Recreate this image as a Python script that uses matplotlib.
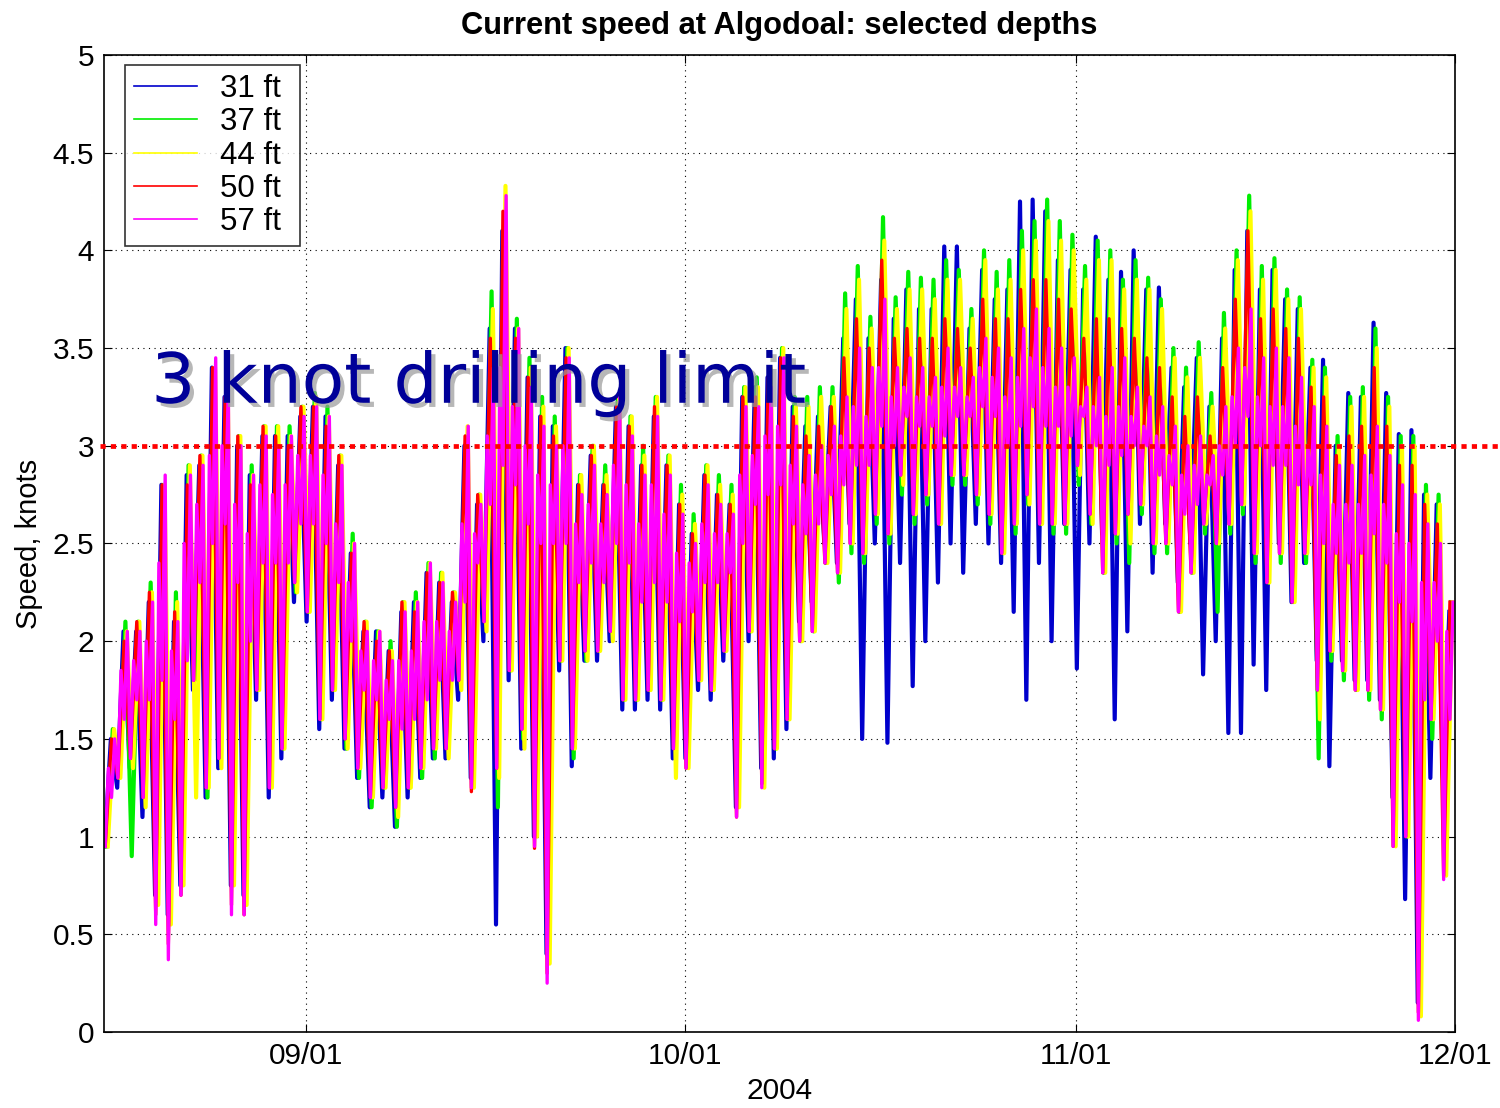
import datetime as dt
import matplotlib
matplotlib.use('Agg')
import matplotlib.pyplot as plt
import matplotlib.dates as mdates
import matplotlib.patheffects as pe

plt.rcParams['font.family'] = ['Liberation Sans', 'DejaVu Sans']

# daily low / high speed (knots), one value per day starting 2004-08-16
start = dt.datetime(2004, 8, 16)

# 57 ft (magenta): deepest low, highest peak, and the second (core) swing of the day
hi_57 = [1.50, 2.05, 2.05, 2.20, 2.85, 2.10, 2.85, 2.90, 3.45, 3.30,
         3.00, 2.85, 3.05, 3.00, 3.05, 3.15, 3.20, 3.15, 2.90, 2.50,
         2.05, 2.05, 1.90, 2.15, 2.20, 2.40, 2.30, 2.20, 3.10, 2.70,
         3.40, 4.28, 3.60, 3.30, 3.10, 3.00, 3.45, 2.75, 2.90, 2.75,
         3.25, 3.05, 2.85, 3.15, 2.85, 2.65, 2.50, 2.80, 2.70, 2.65,
         3.20, 3.20, 3.30, 3.45, 3.10, 2.95, 3.00, 3.10, 3.25, 3.50,
         3.40, 3.75, 3.40, 3.45, 3.40, 3.35, 3.50, 3.40, 3.35, 3.55,
         3.50, 3.45, 3.60, 3.70, 3.60, 3.50, 3.45, 3.30, 3.35, 3.40,
         3.45, 3.30, 3.25, 3.20, 3.10, 3.00, 3.05, 2.95, 3.20, 3.50,
         3.70, 3.45, 3.50, 3.45, 3.35, 3.20, 3.10, 2.90, 2.90, 2.95,
         3.10, 2.95, 2.80, 2.75, 2.60, 2.50, 2.20]
hi2_57 = [1.35, 1.85, 1.90, 2.00, 2.40, 1.95, 2.50, 2.70, 2.95, 3.00,
          2.70, 2.55, 2.80, 2.75, 2.80, 2.95, 2.95, 2.85, 2.60, 2.30,
          1.95, 1.90, 1.80, 1.90, 1.95, 2.10, 2.10, 2.05, 2.60, 2.55,
          3.05, 3.40, 3.20, 3.00, 2.85, 2.80, 3.00, 2.60, 2.70, 2.60,
          2.90, 2.80, 2.60, 2.80, 2.65, 2.45, 2.40, 2.60, 2.55, 2.55,
          2.85, 2.95, 3.05, 3.10, 2.90, 2.80, 2.85, 2.95, 3.05, 3.20,
          3.15, 3.40, 3.25, 3.30, 3.25, 3.25, 3.30, 3.30, 3.25, 3.40,
          3.35, 3.25, 3.35, 3.45, 3.40, 3.30, 3.30, 3.20, 3.20, 3.15,
          3.20, 3.15, 3.10, 3.05, 2.95, 2.85, 2.90, 2.85, 3.00, 3.25,
          3.40, 3.25, 3.20, 3.20, 3.10, 3.00, 2.85, 2.70, 2.70, 2.70,
          2.85, 2.70, 2.55, 2.50, 2.30, 2.30, 2.05]
lo2_57 = [1.20, 1.60, 1.70, 1.70, 1.80, 1.60, 1.90, 2.30, 2.50, 2.60,
          2.30, 2.00, 2.40, 2.40, 2.40, 2.60, 2.60, 2.50, 2.30, 2.00,
          1.75, 1.70, 1.60, 1.55, 1.60, 1.70, 1.80, 1.80, 2.20, 2.40,
          2.70, 2.90, 2.80, 2.60, 2.50, 2.50, 2.50, 2.30, 2.40, 2.30,
          2.50, 2.40, 2.20, 2.30, 2.20, 2.10, 2.15, 2.30, 2.30, 2.35,
          2.50, 2.70, 2.75, 2.80, 2.60, 2.55, 2.60, 2.75, 2.80, 2.90,
          2.90, 3.10, 3.00, 3.15, 3.10, 3.10, 3.05, 3.15, 3.15, 3.20,
          3.15, 3.00, 3.10, 3.20, 3.10, 3.10, 3.05, 3.15, 3.00, 2.90,
          2.95, 3.00, 3.00, 2.85, 2.80, 2.65, 2.70, 2.80, 2.85, 3.00,
          3.15, 3.00, 2.90, 2.90, 2.80, 2.80, 2.50, 2.45, 2.40, 2.45,
          2.55, 2.40, 2.20, 2.10, 1.70, 2.00, 1.60]
lo_57 = [0.95, 1.30, 1.40, 1.20, 0.55, 0.37, 0.70, 1.80, 1.25, 1.40,
         0.60, 0.60, 1.75, 1.25, 1.45, 2.30, 2.15, 1.60, 1.75, 1.50,
         1.35, 1.20, 1.25, 1.15, 1.25, 1.35, 1.45, 1.45, 1.80, 1.25,
         2.10, 1.35, 1.85, 1.55, 0.95, 0.25, 1.90, 1.45, 1.95, 1.95,
         2.05, 1.70, 1.70, 1.75, 1.70, 1.45, 1.35, 1.80, 1.75, 1.95,
         1.10, 2.05, 1.25, 1.45, 1.60, 2.00, 2.05, 2.40, 2.35, 2.50,
         2.45, 2.65, 2.55, 2.85, 2.65, 2.75, 2.60, 2.85, 2.85, 2.75,
         2.65, 2.45, 2.60, 2.75, 2.60, 2.60, 2.60, 2.90, 2.65, 2.35,
         2.55, 2.65, 2.70, 2.50, 2.50, 2.15, 2.35, 2.60, 2.50, 2.60,
         2.70, 2.45, 2.30, 2.45, 2.20, 2.45, 1.75, 1.95, 1.85, 1.75,
         1.75, 1.65, 0.95, 1.00, 0.06, 1.60, 0.78]

# 50 ft (red)
hi_50 = [1.50, 2.00, 2.10, 2.25, 2.80, 2.15, 2.80, 2.95, 3.40, 3.25,
         3.05, 2.80, 3.10, 3.05, 3.00, 3.20, 3.20, 3.10, 2.95, 2.45,
         2.10, 2.00, 1.95, 2.20, 2.15, 2.35, 2.30, 2.25, 3.05, 2.75,
         3.55, 4.20, 3.55, 3.35, 3.15, 3.05, 3.45, 2.80, 2.95, 2.80,
         3.20, 3.10, 2.90, 3.20, 2.90, 2.70, 2.55, 2.85, 2.75, 2.70,
         3.25, 3.25, 3.35, 3.45, 3.15, 3.05, 3.10, 3.20, 3.45, 3.65,
         3.50, 3.95, 3.55, 3.60, 3.55, 3.55, 3.65, 3.60, 3.50, 3.75,
         3.65, 3.65, 3.80, 3.85, 3.85, 3.75, 3.70, 3.55, 3.65, 3.65,
         3.60, 3.55, 3.45, 3.40, 3.25, 3.15, 3.25, 3.05, 3.40, 3.75,
         4.10, 3.65, 3.70, 3.60, 3.55, 3.30, 3.25, 2.95, 3.05, 3.10,
         3.40, 3.10, 2.90, 2.90, 2.70, 2.60, 2.20]
lo_50 = [0.95, 1.30, 1.40, 1.20, 0.60, 0.45, 0.70, 1.80, 1.25, 1.40,
         0.65, 0.60, 1.75, 1.25, 1.45, 2.30, 2.15, 1.60, 1.75, 1.50,
         1.35, 1.20, 1.25, 1.15, 1.25, 1.35, 1.45, 1.45, 1.80, 1.23,
         2.10, 1.35, 1.85, 1.55, 0.94, 0.30, 1.90, 1.45, 1.95, 1.95,
         2.05, 1.70, 1.70, 1.75, 1.70, 1.45, 1.35, 1.80, 1.75, 1.95,
         1.10, 2.05, 1.27, 1.45, 1.60, 2.00, 2.05, 2.40, 2.35, 2.50,
         2.45, 2.65, 2.55, 2.85, 2.65, 2.75, 2.60, 2.85, 2.85, 2.75,
         2.65, 2.45, 2.60, 2.75, 2.60, 2.60, 2.60, 2.90, 2.65, 2.35,
         2.55, 2.65, 2.70, 2.50, 2.50, 2.15, 2.35, 2.60, 2.50, 2.60,
         2.70, 2.45, 2.30, 2.45, 2.20, 2.45, 1.75, 1.95, 1.85, 1.75,
         1.75, 1.65, 0.95, 1.00, 0.10, 1.60, 0.80]

# 44 ft (yellow)
hi_44 = [1.55, 2.05, 2.10, 2.25, 2.80, 2.20, 2.90, 2.95, 3.40, 3.30,
         3.05, 2.85, 3.10, 3.10, 3.05, 3.20, 3.25, 3.15, 2.95, 2.50,
         2.10, 2.05, 1.95, 2.20, 2.20, 2.40, 2.35, 2.25, 3.10, 2.75,
         3.70, 4.33, 3.60, 3.40, 3.20, 3.10, 3.50, 2.85, 3.00, 2.85,
         3.25, 3.15, 2.95, 3.25, 2.95, 2.75, 2.60, 2.90, 2.80, 2.75,
         3.30, 3.30, 3.40, 3.50, 3.20, 3.20, 3.25, 3.25, 3.70, 3.85,
         3.60, 4.05, 3.70, 3.80, 3.80, 3.75, 3.85, 3.85, 3.65, 3.95,
         3.80, 3.85, 4.00, 4.05, 4.15, 4.05, 4.00, 3.85, 3.95, 3.95,
         3.80, 3.85, 3.80, 3.70, 3.45, 3.35, 3.45, 3.20, 3.60, 3.95,
         4.20, 3.85, 3.90, 3.75, 3.70, 3.40, 3.35, 3.00, 3.20, 3.25,
         3.50, 3.20, 3.00, 3.00, 2.75, 2.70, 2.20]
lo_44 = [0.95, 1.30, 1.35, 1.15, 0.65, 0.55, 0.75, 1.20, 1.25, 1.35,
         0.75, 0.65, 1.75, 1.25, 1.45, 2.25, 2.15, 1.60, 1.75, 1.45,
         1.35, 1.20, 1.25, 1.10, 1.25, 1.35, 1.45, 1.40, 1.75, 1.25,
         2.05, 1.30, 1.85, 1.45, 1.00, 0.35, 1.90, 1.45, 1.90, 1.95,
         2.00, 1.70, 1.70, 1.75, 1.70, 1.30, 1.35, 1.80, 1.75, 1.95,
         1.15, 2.05, 1.25, 1.45, 1.60, 2.00, 2.05, 2.40, 2.35, 2.50,
         2.45, 2.65, 2.55, 2.80, 2.65, 2.75, 2.60, 2.85, 2.85, 2.75,
         2.65, 2.45, 2.60, 2.70, 2.60, 2.60, 2.60, 2.85, 2.60, 2.35,
         2.55, 2.50, 2.70, 2.50, 2.50, 2.15, 2.35, 2.60, 2.50, 2.60,
         2.70, 2.45, 2.30, 2.45, 2.20, 2.45, 1.60, 1.95, 1.85, 1.75,
         1.75, 1.65, 0.95, 1.00, 0.08, 1.60, 0.80]

# 37 ft (green)
hi_37 = [1.55, 2.10, 2.10, 2.30, 2.80, 2.25, 2.90, 2.95, 3.35, 3.30,
         3.05, 2.90, 3.10, 3.10, 3.10, 3.20, 3.27, 3.20, 2.95, 2.55,
         2.10, 2.05, 2.00, 2.20, 2.25, 2.40, 2.35, 2.25, 3.05, 2.75,
         3.79, 4.15, 3.65, 3.45, 3.25, 3.15, 3.50, 2.85, 3.00, 2.90,
         3.25, 3.15, 3.00, 3.25, 2.95, 2.80, 2.65, 2.90, 2.85, 2.80,
         3.30, 3.35, 3.40, 3.50, 3.25, 3.25, 3.30, 3.30, 3.78, 3.92,
         3.66, 4.17, 3.76, 3.89, 3.86, 3.85, 3.95, 3.90, 3.70, 4.00,
         3.89, 3.95, 4.10, 4.15, 4.26, 4.15, 4.08, 3.92, 4.05, 4.00,
         3.85, 3.95, 3.86, 3.75, 3.50, 3.40, 3.53, 3.27, 3.68, 4.00,
         4.28, 3.92, 3.96, 3.80, 3.76, 3.44, 3.40, 3.05, 3.25, 3.30,
         3.60, 3.25, 3.05, 3.05, 2.80, 2.75, 2.20]
lo_37 = [0.95, 1.30, 0.90, 1.20, 0.70, 0.60, 0.80, 1.80, 1.20, 1.40,
         0.80, 0.75, 1.75, 1.30, 1.45, 2.25, 2.15, 1.60, 1.75, 1.45,
         1.30, 1.15, 1.25, 1.05, 1.25, 1.30, 1.40, 1.45, 1.80, 1.30,
         2.10, 1.15, 1.85, 1.50, 1.05, 0.45, 1.90, 1.40, 1.90, 1.95,
         2.05, 1.70, 1.70, 1.75, 1.70, 1.45, 1.40, 1.80, 1.75, 1.95,
         1.20, 2.05, 1.35, 1.45, 1.60, 2.00, 2.05, 2.40, 2.30, 2.45,
         2.40, 2.60, 2.50, 2.75, 2.60, 2.70, 2.60, 2.80, 2.80, 2.70,
         2.60, 2.45, 2.55, 2.70, 2.60, 2.55, 2.55, 2.80, 2.60, 2.35,
         2.50, 2.40, 2.65, 2.45, 2.45, 2.15, 2.35, 2.55, 2.15, 2.55,
         2.65, 2.40, 2.30, 2.40, 2.20, 2.40, 1.40, 1.90, 1.80, 1.75,
         1.70, 1.60, 1.00, 1.00, 0.10, 1.50, 0.85]

# 31 ft (blue)
hi_31 = [1.50, 2.05, 2.05, 2.20, 2.80, 2.10, 2.85, 2.90, 3.40, 3.25,
         3.00, 2.85, 3.05, 3.05, 3.05, 3.15, 3.20, 3.15, 2.90, 2.45,
         2.05, 2.05, 1.95, 2.15, 2.20, 2.35, 2.30, 2.20, 3.00, 2.70,
         3.60, 4.10, 3.60, 3.35, 3.15, 3.10, 3.50, 2.80, 2.95, 2.80,
         3.20, 3.10, 2.90, 3.15, 2.90, 2.70, 2.55, 2.85, 2.75, 2.70,
         3.25, 3.30, 3.35, 3.45, 3.20, 3.10, 3.15, 3.20, 3.55, 3.75,
         3.55, 3.85, 3.65, 3.80, 3.70, 3.70, 4.02, 4.02, 3.60, 3.90,
         3.75, 3.80, 4.25, 4.26, 4.20, 3.95, 3.90, 3.80, 4.07, 3.85,
         3.89, 4.00, 3.80, 3.81, 3.40, 3.30, 3.45, 3.20, 3.55, 3.90,
         4.10, 3.80, 3.90, 3.75, 3.70, 3.40, 3.44, 3.00, 3.27, 3.25,
         3.63, 3.27, 3.06, 3.08, 2.75, 2.70, 2.15]
lo_31 = [0.95, 1.25, 1.35, 1.10, 0.70, 0.60, 0.75, 1.75, 1.20, 1.35,
         0.75, 0.70, 1.70, 1.20, 1.40, 2.20, 2.10, 1.55, 1.70, 1.45,
         1.30, 1.15, 1.20, 1.05, 1.20, 1.30, 1.40, 1.40, 1.70, 1.30,
         2.00, 0.55, 1.80, 1.45, 1.00, 0.40, 1.85, 1.36, 1.90, 1.90,
         2.00, 1.65, 1.65, 1.70, 1.65, 1.40, 1.40, 1.75, 1.70, 1.90,
         1.15, 2.00, 1.35, 1.40, 1.55, 2.10, 2.20, 2.50, 2.40, 2.60,
         1.50, 2.50, 1.48, 2.40, 1.77, 2.00, 2.30, 2.50, 2.35, 2.60,
         2.50, 2.40, 2.15, 1.70, 2.40, 2.00, 2.60, 1.86, 2.50, 2.55,
         1.60, 2.05, 2.60, 2.35, 2.60, 2.30, 2.50, 1.83, 2.00, 1.53,
         1.53, 1.88, 1.75, 2.50, 2.20, 2.40, 1.90, 1.36, 1.90, 1.80,
         1.80, 1.70, 1.20, 0.68, 0.15, 1.30, 1.30]

depths = ['31 ft', '37 ft', '44 ft', '50 ft', '57 ft']
colors = ['#0000CC', '#00EE00', '#FFFF00', '#FF0000', '#FF00FF']
highs = [hi_31, hi_37, hi_44, hi_50, hi_57]
lows = [lo_31, lo_37, lo_44, lo_50, lo_57]
phase = [0.05, 0.2, 0.3, 0.1, 0.0]  # sampling offset of each record within the day
widths = [3.0, 3.0, 3.0, 2.4, 2.4]

fig = plt.figure(figsize=(15, 11.08), dpi=100)
ax = fig.add_axes([0.0693, 0.0686, 0.9007, 0.8818])

for name, col, hi, lo, ph, w in zip(depths, colors, highs, lows, phase, widths):
    t = []
    v = []
    for d in range(len(hi)):
        if name == '57 ft':
            t += [start + dt.timedelta(days=d + f) for f in (0.1, 0.35, 0.6, 0.85)]
            v += [lo[d], hi2_57[d], lo2_57[d], hi[d]]
        else:
            t += [start + dt.timedelta(days=d + ph), start + dt.timedelta(days=d + ph + 0.5)]
            v += [lo[d], hi[d]]
    ax.plot(t, v, color=col, lw=w, label=name)

ax.set_xlim(start, dt.datetime(2004, 12, 1))
ax.set_ylim(0, 5)
ax.set_yticks([0, 0.5, 1, 1.5, 2, 2.5, 3, 3.5, 4, 4.5, 5])
ax.set_yticklabels(['0', '0.5', '1', '1.5', '2', '2.5', '3', '3.5', '4', '4.5', '5'])
ax.set_xticks([dt.datetime(2004, m, 1) for m in (9, 10, 11, 12)])
ax.xaxis.set_major_formatter(mdates.DateFormatter('%m/%d'))
ax.tick_params(labelsize=21.5, direction='in', length=6, top=True, right=True, pad=7)
ax.grid(True, color='black', linestyle=(0, (1, 4)), lw=0.8)
for s in ax.spines.values():
    s.set_linewidth(1.2)

ax.set_title('Current speed at Algodoal: selected depths', fontsize=22.2,
             fontweight='bold', pad=15)
ax.set_xlabel('2004', fontsize=21.5, labelpad=5)
ax.set_ylabel('Speed, knots', fontsize=21, labelpad=7)

leg = ax.legend(loc='upper left', bbox_to_anchor=(0.0155, 0.9898, 0.1295, 0.0),
                mode='expand', fontsize=22.5, frameon=True, fancybox=False,
                edgecolor='black', handlelength=2.0, labelspacing=0.1,
                borderaxespad=0.0, handletextpad=0.75, borderpad=0.3)
leg.get_frame().set_linewidth(1.2)
for ln in leg.get_lines():
    ln.set_linewidth(1.2)

# drilling limit line, runs past the right edge of the axes
ax.plot([-0.003, 1.04], [3, 3], transform=ax.get_yaxis_transform(),
        color='#FF0000', lw=3.4, linestyle=(0, (1.1, 1.1)), clip_on=False,
        zorder=5)

ax.text(0.035, 3.22, '3 knot drilling limit', transform=ax.get_yaxis_transform(),
        fontsize=50, color='#000099', family='DejaVu Sans', zorder=6,
        path_effects=[pe.withSimplePatchShadow(offset=(3, -3), shadow_rgbFace='#999999', alpha=0.7)])

fig.savefig('out.png', dpi=100)
